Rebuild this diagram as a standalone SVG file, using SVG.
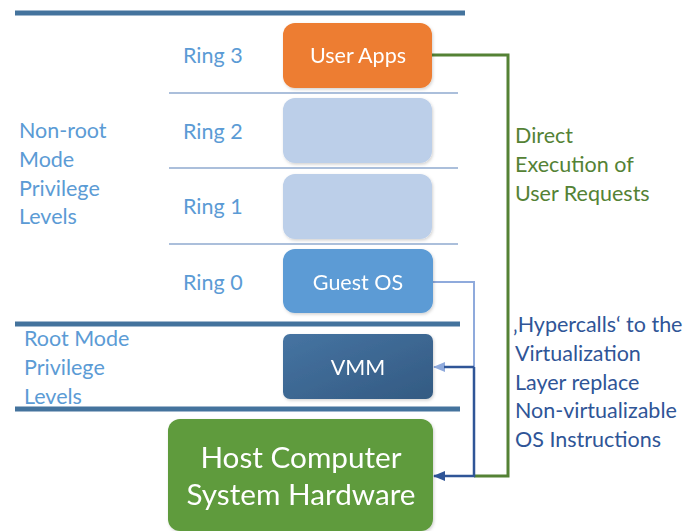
<svg xmlns="http://www.w3.org/2000/svg" width="693" height="531" viewBox="0 0 693 531">
<defs>
<style>
text{font-family:Lato,"Open Sans","Liberation Sans",sans-serif}
.lbl{fill:#5B9BD5;font-size:21.5px}
.box{font-size:21.5px;fill:#fff;text-anchor:middle}
.thick{stroke:#44739D;stroke-width:5}
.thin{stroke:#8FAACF;stroke-width:1.5}
.grn{fill:#548235;font-size:21.5px}
.blu{fill:#2F5597;font-size:21.5px}
</style>
<linearGradient id="vg" x1="0" y1="0" x2="1" y2="1">
<stop offset="0" stop-color="#4674A2"/><stop offset="1" stop-color="#335A82"/>
</linearGradient>
<filter id="sh" x="-10%" y="-10%" width="130%" height="130%">
<feDropShadow dx="1" dy="1.5" stdDeviation="1.5" flood-color="#000" flood-opacity="0.18"/>
</filter>
<marker id="aL" viewBox="0 0 12 10" refX="11" refY="5" markerWidth="12" markerHeight="10" orient="auto" markerUnits="userSpaceOnUse"><path d="M0,0 L12,5 L0,10 z" fill="#8FAADC"/></marker>
<marker id="aD" viewBox="0 0 12 10" refX="11" refY="5" markerWidth="12" markerHeight="10" orient="auto" markerUnits="userSpaceOnUse"><path d="M0,0 L12,5 L0,10 z" fill="#2F5597"/></marker>
</defs>
<rect width="693" height="531" fill="#fff"/>
<g id="levels">
<line class="thick" x1="15" y1="13" x2="465" y2="13"/>
<line class="thick" x1="15" y1="324" x2="460" y2="324"/>
<line class="thick" x1="15" y1="409" x2="460" y2="409"/>
<line class="thin" x1="169" y1="93" x2="458" y2="93"/>
<line class="thin" x1="169" y1="168" x2="458" y2="168"/>
<line class="thin" x1="169" y1="244" x2="458" y2="244"/>
</g>
<g id="labels">
<text class="lbl" x="183" y="63">Ring 3</text>
<text class="lbl" x="183" y="139">Ring 2</text>
<text class="lbl" x="183" y="214">Ring 1</text>
<text class="lbl" x="183" y="290">Ring 0</text>
<text class="lbl" x="19" y="138">Non-root</text>
<text class="lbl" x="19" y="167">Mode</text>
<text class="lbl" x="19" y="196">Privilege</text>
<text class="lbl" x="19" y="224">Levels</text>
<text class="lbl" x="24" y="346">Root Mode</text>
<text class="lbl" x="24" y="375">Privilege</text>
<text class="lbl" x="24" y="404">Levels</text>
</g>
<g id="connectors" fill="none">
<path d="M432,55 H508 V476 H474" stroke="#548235" stroke-width="3"/>
<path d="M433,282 H474 V367 H434" stroke="#8FAADC" stroke-width="2" marker-end="url(#aL)"/>
<path d="M474,367 H444" stroke="#2F5597" stroke-width="2.5"/>
<path d="M474,367 V476 H434" stroke="#2F5597" stroke-width="2.5" marker-end="url(#aD)"/>
</g>
<g id="user-apps" filter="url(#sh)">
<rect x="283" y="23" width="149" height="65" rx="12" fill="#ED7D31"/>
<text class="box" x="358" y="63">User Apps</text>
</g>
<g id="ring2-box" filter="url(#sh)">
<rect x="283" y="98" width="149" height="65" rx="12" fill="#BCCFE9"/>
</g>
<g id="ring1-box" filter="url(#sh)">
<rect x="283" y="174" width="149" height="65" rx="12" fill="#BCCFE9"/>
</g>
<g id="guest-os" filter="url(#sh)">
<rect x="283" y="249" width="150" height="64" rx="12" fill="#5B9BD5"/>
<text class="box" x="358" y="290">Guest OS</text>
</g>
<g id="vmm" filter="url(#sh)">
<rect x="283" y="334" width="150" height="65" rx="7" fill="url(#vg)"/>
<text class="box" x="358" y="375">VMM</text>
</g>
<g id="host" filter="url(#sh)">
<rect x="168" y="419" width="265" height="112" rx="12" fill="#5E9B3C"/>
<text class="box" x="301" y="468" style="font-size:29.7px">Host Computer</text>
<text class="box" x="301" y="505" style="font-size:29.7px">System Hardware</text>
</g>
<g id="notes">
<text class="grn" x="515" y="143">Direct</text>
<text class="grn" x="515" y="172">Execution of</text>
<text class="grn" x="515" y="201">User Requests</text>
<text class="blu" x="513" y="332">‚Hypercalls‘ to the</text>
<text class="blu" x="515" y="361">Virtualization</text>
<text class="blu" x="515" y="390">Layer replace</text>
<text class="blu" x="515" y="418">Non-virtualizable</text>
<text class="blu" x="515" y="447">OS Instructions</text>
</g>
</svg>
